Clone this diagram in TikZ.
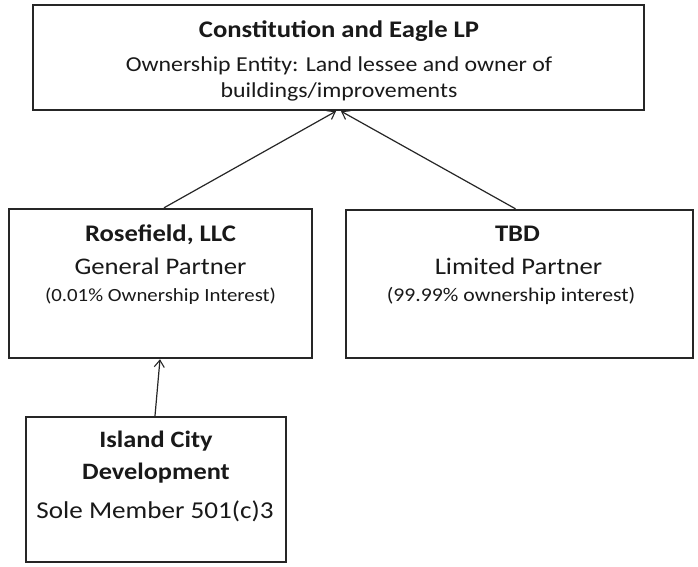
\documentclass[tikz,border=0pt]{standalone}
\usepackage{fontspec}
\setmainfont{Carlito}[FakeStretch=1.12]
\usetikzlibrary{arrows.meta}
\tikzset{
  box/.style={draw=black!85, line width=2.4pt, inner sep=0pt, fill=white},
  txt/.style={inner sep=0pt, anchor=base, text=black!90},
  arr/.style={draw=black!85, line width=1.2pt, -{Straight Barb[length=7pt,width=10pt,line width=1.1pt]}},
}
\begin{document}
\begin{tikzpicture}[x=1pt,y=-1pt]
\useasboundingbox[fill=white] (0,0) rectangle (698,566);
\node[box, minimum width=611pt, minimum height=105pt] (top) at (338.5,57.5) {};
\node[box, minimum width=303pt, minimum height=149pt] (rose) at (160.5,283.5) {};
\node[box, minimum width=347pt, minimum height=148pt] (tbd) at (519.5,284) {};
\node[box, minimum width=260pt, minimum height=145pt] (isl) at (156,489.5) {};

\node[txt, font=\fontsize{23.8}{28}\selectfont\bfseries] (t1) at (339,37) {Constitution and Eagle LP};
\node[txt, font=\fontsize{21.3}{25}\selectfont] (t2) at (339,71) {Ownership Entity: Land lessee and owner of};
\node[txt, font=\fontsize{21.3}{25}\selectfont] (t3) at (339,97) {buildings/improvements};

\node[txt, font=\fontsize{23.8}{28}\selectfont\bfseries] (r1) at (160.5,241) {Rosefield, LLC};
\node[txt, font=\fontsize{23.8}{28}\selectfont] (r2) at (160.5,274) {General Partner};
\node[txt, font=\fontsize{18.6}{22}\selectfont] (r3) at (160.5,301) {(0.01\% Ownership Interest)};

\node[txt, font=\fontsize{23.8}{28}\selectfont\bfseries] (b1) at (517.5,241) {TBD};
\node[txt, font=\fontsize{23.8}{28}\selectfont] (b2) at (518.5,274) {Limited Partner};
\node[txt, font=\fontsize{19.4}{23}\selectfont] (b3) at (511,301) {(99.99\% ownership interest)};

\node[txt, font=\fontsize{23.5}{28}\selectfont\bfseries] (i1) at (156,447) {Island City};
\node[txt, font=\fontsize{23.5}{28}\selectfont\bfseries] (i2) at (156,479) {Development};
\node[txt, font=\fontsize{24.2}{29}\selectfont] (i3) at (155,518) {Sole Member 501(c)3};

\draw[arr] ([xshift=3.5pt]rose.north) -- ([xshift=-2.5pt]top.south);
\draw[arr] ([xshift=-4pt]tbd.north) -- ([xshift=2.5pt]top.south);
\draw[arr] ([xshift=-1pt]isl.north) -- ([xshift=-0.5pt]rose.south);
\end{tikzpicture}
\end{document}
